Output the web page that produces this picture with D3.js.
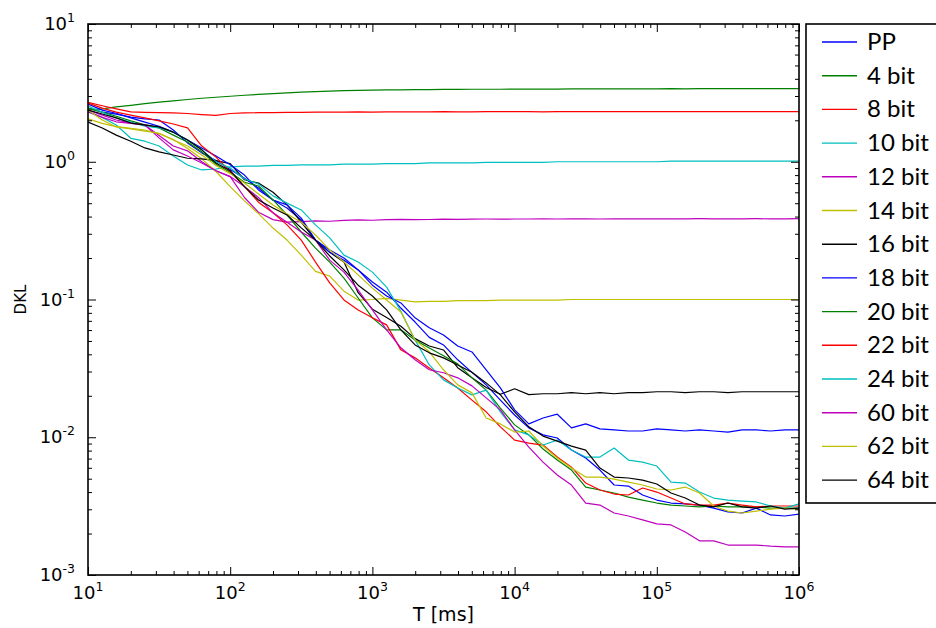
<!DOCTYPE html>
<html>
<head>
<meta charset="utf-8">
<script src="https://cdn.jsdelivr.net/npm/d3@7"></script>
<style>
  body { margin: 0; background: #fff; }
  text { font-family: "DejaVu Sans", sans-serif; fill: #000; }
  .legend text { font-family: Lato, "Open Sans", sans-serif; }
</style>
</head>
<body>
<div id="chart"></div>
<script>
"use strict";

// sample times (ms)
var T = [10, 12.6, 15.8, 20, 25.1, 31.6, 39.8, 50.1, 63.1, 79.4,
  100, 126, 158, 200, 251, 316, 398, 501, 631, 794,
  1000, 1259, 1585, 1995, 2512, 3162, 3981, 5012, 6310, 7943,
  10000, 12589, 15849, 19953, 25119, 31623, 39811, 50119, 63096, 79433,
  100000, 125893, 158489, 199526, 251189, 316228, 398107, 501187, 630957, 794328,
  1000000];

var pp = [2.45, 2.29, 2.22, 2.11, 2.05, 2.01, 1.70, 1.37, 1.16, 1.02,
  0.88, 0.76, 0.645, 0.528, 0.462, 0.378, 0.270, 0.229, 0.20, 0.164,
  0.134, 0.113, 0.0867, 0.0686, 0.0531, 0.0468, 0.0365, 0.0296, 0.024, 0.0186,
  0.0145, 0.0117, 0.0104, 0.00988, 0.00807, 0.00706, 0.00578, 0.0045, 0.00442, 0.00381,
  0.0035, 0.00333, 0.00328, 0.00322, 0.00306, 0.00287, 0.00282, 0.00306, 0.00273, 0.00268,
  0.00277];
var bit4 = [2.38, 2.42, 2.50, 2.57, 2.64, 2.71, 2.77, 2.83, 2.89, 2.94,
  2.99, 3.04, 3.08, 3.12, 3.16, 3.20, 3.23, 3.26, 3.28, 3.30,
  3.31, 3.32, 3.33, 3.34, 3.34, 3.35, 3.35, 3.36, 3.36, 3.36,
  3.37, 3.37, 3.37, 3.37, 3.38, 3.38, 3.38, 3.38, 3.38, 3.38,
  3.38, 3.39, 3.38, 3.39, 3.39, 3.39, 3.39, 3.39, 3.39, 3.39,
  3.39];
var bit8 = [2.70, 2.55, 2.42, 2.30, 2.28, 2.27, 2.26, 2.24, 2.20, 2.17,
  2.24, 2.26, 2.27, 2.27, 2.28, 2.28, 2.29, 2.29, 2.29, 2.30,
  2.29, 2.30, 2.30, 2.30, 2.30, 2.31, 2.30, 2.30, 2.31, 2.31,
  2.31, 2.31, 2.30, 2.31, 2.31, 2.31, 2.31, 2.31, 2.31, 2.31,
  2.31, 2.31, 2.31, 2.31, 2.31, 2.31, 2.31, 2.31, 2.31, 2.31,
  2.31];
var bit10 = [2.30, 2.10, 1.85, 1.48, 1.41, 1.30, 1.10, 0.948, 0.872, 0.886,
  0.917, 0.93, 0.93, 0.94, 0.94, 0.95, 0.95, 0.95, 0.96, 0.96,
  0.96, 0.97, 0.97, 0.97, 0.98, 0.98, 0.98, 0.98, 0.99, 0.99,
  0.99, 0.99, 0.99, 1.0, 1.0, 1.0, 1.0, 1.0, 1.0, 1.0,
  1.0, 1.01, 1.01, 1.01, 1.01, 1.01, 1.01, 1.01, 1.01, 1.01,
  1.01];
var bit12 = [2.30, 2.10, 1.95, 1.90, 1.85, 1.55, 1.30, 1.20, 1.00, 0.86,
  0.78, 0.55, 0.43, 0.38, 0.365, 0.368, 0.372, 0.37, 0.375, 0.378,
  0.376, 0.38, 0.382, 0.38, 0.381, 0.383, 0.382, 0.383, 0.384, 0.383,
  0.384, 0.384, 0.385, 0.384, 0.385, 0.385, 0.384, 0.385, 0.385, 0.385,
  0.385, 0.385, 0.385, 0.386, 0.385, 0.385, 0.385, 0.386, 0.385, 0.385,
  0.386];
var bit14 = [2.05, 1.90, 1.80, 1.75, 1.70, 1.60, 1.45, 1.25, 1.05, 0.85,
  0.66, 0.52, 0.42, 0.33, 0.27, 0.21, 0.16, 0.148, 0.115, 0.099,
  0.100, 0.102, 0.099, 0.096, 0.097, 0.097, 0.098, 0.098, 0.098, 0.099,
  0.099, 0.099, 0.099, 0.099, 0.1, 0.1, 0.1, 0.1, 0.1, 0.1,
  0.1, 0.1, 0.1, 0.1, 0.1, 0.1, 0.1, 0.1, 0.1, 0.1,
  0.1];
var bit16 = [1.94, 1.76, 1.56, 1.41, 1.26, 1.18, 1.12, 1.06, 1.05, 1.02,
  0.97, 0.74, 0.70, 0.60, 0.486, 0.364, 0.27, 0.22, 0.187, 0.112,
  0.085, 0.074, 0.064, 0.052, 0.046, 0.043, 0.032, 0.027, 0.023, 0.0205,
  0.0225, 0.0204, 0.0207, 0.0207, 0.0211, 0.0207, 0.0211, 0.0207, 0.0211, 0.0211,
  0.0214, 0.0214, 0.0211, 0.0214, 0.0214, 0.0211, 0.0214, 0.0214, 0.0214, 0.0214,
  0.0214];
var bit18 = [2.62, 2.37, 2.25, 2.08, 1.94, 1.81, 1.64, 1.44, 1.26, 1.10,
  0.95, 0.80, 0.624, 0.528, 0.486, 0.39, 0.27, 0.22, 0.193, 0.164,
  0.127, 0.106, 0.0944, 0.0736, 0.0623, 0.0553, 0.046, 0.0416, 0.0309, 0.0228,
  0.0158, 0.0125, 0.0138, 0.0147, 0.0117, 0.0125, 0.0115, 0.0113, 0.0111, 0.0111,
  0.0115, 0.0113, 0.0111, 0.0113, 0.0111, 0.0109, 0.0113, 0.0113, 0.0111, 0.0113,
  0.0113];
var bit20 = [2.45, 2.29, 2.14, 1.98, 1.85, 1.76, 1.56, 1.39, 1.18, 0.96,
  0.84, 0.71, 0.667, 0.528, 0.411, 0.309, 0.236, 0.187, 0.143, 0.1025,
  0.0736, 0.0602, 0.0602, 0.0509, 0.0445, 0.039, 0.0341, 0.027, 0.022, 0.0163,
  0.0123, 0.0104, 0.00821, 0.00683, 0.00578, 0.00435, 0.00414, 0.00394, 0.00368, 0.0035,
  0.00333, 0.00322, 0.00317, 0.00312, 0.00317, 0.00312, 0.00312, 0.00312, 0.00306, 0.00306,
  0.00306];
var bit22 = [2.67, 2.45, 2.29, 2.18, 2.08, 1.98, 1.88, 1.76, 1.30, 1.08,
  0.85, 0.66, 0.509, 0.426, 0.348, 0.270, 0.187, 0.132, 0.0993, 0.084,
  0.0736, 0.0654, 0.0431, 0.0377, 0.0318, 0.027, 0.0228, 0.0186, 0.0153, 0.0119,
  0.00954, 0.00907, 0.00878, 0.00718, 0.00607, 0.00465, 0.00414, 0.00387, 0.00381, 0.00428,
  0.004, 0.00362, 0.00328, 0.00322, 0.00322, 0.00333, 0.00322, 0.00312, 0.00317, 0.00317,
  0.00317];
var bit24 = [2.54, 2.29, 2.08, 1.94, 1.81, 1.76, 1.64, 1.44, 1.22, 1.00,
  0.90, 0.75, 0.689, 0.565, 0.501, 0.447, 0.348, 0.28, 0.21, 0.187,
  0.158, 0.123, 0.0822, 0.0509, 0.0335, 0.0261, 0.0228, 0.0203, 0.022, 0.0153,
  0.0113, 0.0104, 0.00878, 0.00954, 0.00807, 0.00718, 0.00718, 0.00835, 0.00683, 0.0066,
  0.00618, 0.00473, 0.00465, 0.004, 0.00362, 0.0035, 0.00344, 0.00339, 0.00317, 0.00306,
  0.00328];
var bit60 = [2.37, 2.18, 2.01, 1.91, 1.85, 1.49, 1.22, 1.10, 0.98, 0.86,
  0.78, 0.66, 0.55, 0.426, 0.364, 0.309, 0.270, 0.193, 0.158, 0.117,
  0.084, 0.0602, 0.0446, 0.0365, 0.0309, 0.0294, 0.027, 0.0236, 0.0193, 0.0158,
  0.0113, 0.00849, 0.0066, 0.00532, 0.0045, 0.00333, 0.00322, 0.00282, 0.00268, 0.00251,
  0.00235, 0.00231, 0.00205, 0.00177, 0.00177, 0.00165, 0.00165, 0.00165, 0.00162, 0.0016,
  0.0016];
var bit62 = [2.37, 2.01, 1.79, 1.73, 1.67, 1.61, 1.44, 1.30, 1.12, 0.94,
  0.82, 0.70, 0.584, 0.486, 0.418, 0.364, 0.294, 0.229, 0.187, 0.151,
  0.121, 0.0993, 0.0812, 0.0509, 0.0417, 0.0309, 0.024, 0.021, 0.0138, 0.0125,
  0.0109, 0.0111, 0.00863, 0.00706, 0.00597, 0.00514, 0.00514, 0.00497, 0.00473, 0.0045,
  0.00421, 0.00414, 0.00435, 0.00394, 0.00317, 0.00291, 0.00282, 0.00291, 0.00301, 0.00306,
  0.00301];
var bit64 = [2.37, 2.22, 2.08, 1.91, 1.85, 1.79, 1.64, 1.44, 1.22, 0.98,
  0.86, 0.66, 0.528, 0.462, 0.411, 0.331, 0.27, 0.207, 0.164, 0.127,
  0.106, 0.084, 0.0602, 0.0468, 0.041, 0.0377, 0.0335, 0.0296, 0.0248, 0.0203,
  0.0153, 0.0119, 0.0102, 0.00938, 0.00863, 0.00807, 0.00597, 0.00514, 0.00506, 0.00489,
  0.00458, 0.00394, 0.00362, 0.00322, 0.00312, 0.00333, 0.00312, 0.00306, 0.00317, 0.00301,
  0.00306];

var labels = ["PP", "4 bit", "8 bit", "10 bit", "12 bit", "14 bit", "16 bit",
  "18 bit", "20 bit", "22 bit", "24 bit", "60 bit", "62 bit", "64 bit"];
var series = [pp, bit4, bit8, bit10, bit12, bit14, bit16,
  bit18, bit20, bit22, bit24, bit60, bit62, bit64];
var colors = ["#0000ff", "#008000", "#ff0000", "#00bfbf", "#bf00bf", "#bfbf00", "#000000",
  "#0000ff", "#008000", "#ff0000", "#00bfbf", "#bf00bf", "#bfbf00", "#000000"];

var xMajor = [1e1, 1e2, 1e3, 1e4, 1e5, 1e6];
var yMajor = [1e-3, 1e-2, 1e-1, 1e0, 1e1];

var margin = { top: 24, right: 137, bottom: 53, left: 88 };
var width = 936 - margin.left - margin.right;
var height = 628 - margin.top - margin.bottom;

var root = d3.select("#chart").append("svg").attr("width", 936).attr("height", 628);
var svg = root.append("g").attr("transform", "translate(" + margin.left + "," + margin.top + ")");

var x = d3.scaleLog().domain([1e1, 1e6]).range([0, width]);
var y = d3.scaleLog().domain([1e-3, 1e1]).range([height, 0]);

svg.append("clipPath").attr("id", "clip").append("rect").attr("width", width).attr("height", height);

var line = d3.line().x(function (d, i) {
  return x(T[i]);
}).y(function (d) {
  return y(d);
});

var plot = svg.append("g").attr("clip-path", "url(#clip)");
series.forEach(function (s, k) {
  plot.append("path").datum(s).attr("d", line).attr("fill", "none").attr("stroke", colors[k]).attr("stroke-width", 1.2).attr("stroke-linejoin", "round");
});

// ticks point inward on all four sides
var xMinor = x.ticks().filter(function (v) { return xMajor.indexOf(v) < 0; });
var yMinor = y.ticks().filter(function (v) { return yMajor.indexOf(v) < 0; });

function ticks(axis, values, size, transform) {
  svg.append("g").attr("transform", transform).call(axis.tickValues(values).tickSize(size).tickSizeOuter(0).tickFormat(""))
    .call(function (g) { g.select(".domain").remove(); })
    .selectAll("line").attr("stroke", "#000").attr("stroke-width", 1);
}
ticks(d3.axisBottom(x), xMajor, -8, "translate(0," + height + ")");
ticks(d3.axisBottom(x), xMinor, -4, "translate(0," + height + ")");
ticks(d3.axisTop(x), xMajor, -8, "translate(0,0)");
ticks(d3.axisTop(x), xMinor, -4, "translate(0,0)");
ticks(d3.axisLeft(y), yMajor, -8, "translate(0,0)");
ticks(d3.axisLeft(y), yMinor, -4, "translate(0,0)");
ticks(d3.axisRight(y), yMajor, -8, "translate(" + width + ",0)");
ticks(d3.axisRight(y), yMinor, -4, "translate(" + width + ",0)");

svg.append("rect").attr("width", width).attr("height", height).attr("fill", "none").attr("stroke", "#000").attr("stroke-width", 1.6);

function expLabel(sel, v) {
  var e = Math.round(Math.log10(v));
  sel.append("tspan").text("10");
  sel.append("tspan").attr("dy", -8).attr("font-size", 12.5).text(String(e));
}

xMajor.forEach(function (v) {
  var t = svg.append("text").attr("x", x(v)).attr("y", height + 24).attr("text-anchor", "middle").attr("font-size", 18);
  expLabel(t, v);
});
yMajor.forEach(function (v) {
  var t = svg.append("text").attr("x", -13).attr("y", y(v) + 6).attr("text-anchor", "end").attr("font-size", 18);
  expLabel(t, v);
});

svg.append("text").attr("text-anchor", "middle").attr("font-size", 19).attr("transform", "translate(" + width / 2 + "," + (height + 46) + ")").text("T [ms]");
svg.append("text").attr("text-anchor", "middle").attr("font-size", 15).attr("transform", "translate(-62," + height / 2 + ")rotate(-90)").text("DKL");

// legend, clipped by the right edge of the page
var legend = root.append("g").attr("class", "legend").attr("transform", "translate(806,24)");
legend.append("rect").attr("width", 200).attr("height", 479).attr("fill", "#fff").attr("stroke", "#000").attr("stroke-width", 1.6);
labels.forEach(function (name, k) {
  var ly = 18 + k * 33.7;
  legend.append("line").attr("x1", 16).attr("x2", 51).attr("y1", ly).attr("y2", ly).attr("stroke", colors[k]).attr("stroke-width", 1.4);
  legend.append("text").attr("x", 61).attr("y", ly + 8).attr("font-size", 24).text(name);
});
</script>
</body>
</html>
